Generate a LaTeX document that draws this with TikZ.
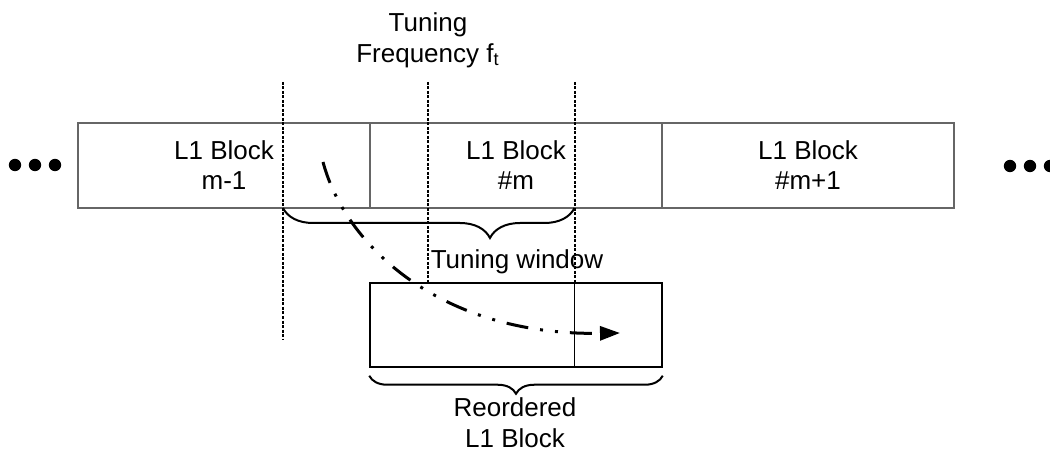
\documentclass[tikz,border=0pt]{standalone}
\usepackage{fontspec}
\setmainfont{Liberation Sans}
\usetikzlibrary{positioning, arrows.meta, decorations.pathreplacing}
\tikzset{
	blk/.style={draw=black!60, line width=1.1pt, outer sep=0pt, minimum width=146pt, minimum height=42.5pt, inner sep=0pt, align=center, font=\fontsize{13}{15}\selectfont},
	guide/.style={line width=1pt, dash pattern=on 1.5pt off 0.75pt},
	brc/.style={decorate, line width=1pt},
	lbl/.style={align=center, font=\fontsize{13}{15.5}\selectfont},
	bullet/.style={circle, fill=black, inner sep=0pt, minimum size=6.2pt},
	flow/.style={line width=1.5pt, dash pattern=on 11pt off 6pt on 1.5pt off 6pt on 1.5pt off 6pt, -{Triangle[length=10pt, width=7pt]}}
}
\begin{document}
\begin{tikzpicture}[x=0.5pt,y=-0.5pt]
				\useasboundingbox (0,0) rectangle (1050,454);
				\node[blk] (prev) at (224,165.5) {L1 Block\\m-1};
				\node[blk, right=0pt of prev] (cur) {L1 Block\\\#m};
				\node[blk, right=0pt of cur] (next) {L1 Block\\\#m+1};
				\node[bullet] (l1) at (15,165) {};
				\node[bullet] (l2) at (35,165) {};
				\node[bullet] (l3) at (55,165) {};
				\node[bullet] (r1) at (1010,166) {};
				\node[bullet] (r2) at (1030,166) {};
				\node[bullet] (r3) at (1050,166) {};
				\node[lbl] (freq) at (428,40) {Tuning\\Frequency f\textsubscript{t}};
				\node[draw, line width=0.75pt, minimum width=146pt, minimum height=42pt, inner sep=0pt] (reord) at (516,325) {};
				\coordinate (g1) at (283,82);
				\coordinate (g1e) at (283,340);
				\coordinate (g2) at (428,82);
				\coordinate (g3) at (574.5,82);
				\draw[guide] (g1) -- (g1e);
				\draw[guide] (g2) -- (g2 |- reord.north);
				\draw[guide] (g3) -- (g3 |- reord.north);
				\draw[line width=0.75pt] (g3 |- reord.north) -- (g3 |- reord.south);
				\draw[brc, decoration={brace, mirror, amplitude=15pt, aspect=0.71}] (g1 |- prev.south) -- (g3 |- prev.south);
				\node[lbl] (win) at (517,262) {Tuning window};
				\draw[brc, decoration={brace, mirror, amplitude=9pt}] ([yshift=-4pt]reord.south west) -- ([yshift=-4pt]reord.south east);
				\node[lbl] (reo) at (515,423) {Reordered\\L1 Block};
				\coordinate (a0) at (323,162);
				\coordinate (a1) at (620,333);
				\draw[flow] (a0) .. controls (345,245) and (440,336) .. (a1);
			\end{tikzpicture}
\end{document}
